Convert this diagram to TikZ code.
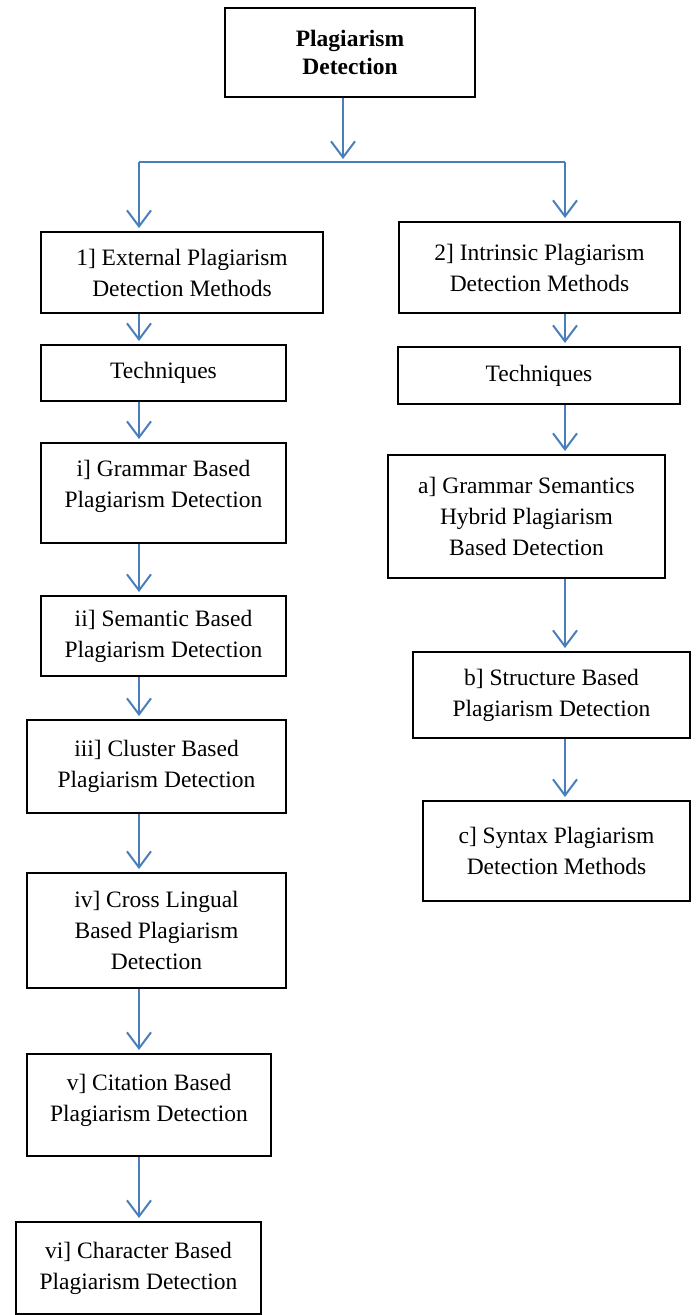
\documentclass[tikz,border=0pt]{standalone}
\usepackage{fontspec}
\setmainfont{Liberation Serif}
\usepackage{tikz}
\usetikzlibrary{shapes,arrows.meta,positioning}
\definecolor{arrowblue}{RGB}{74,126,187}

\begin{document}
\begin{tikzpicture}[x=1pt,y=-1pt]
		\tikzstyle{box} = [rectangle, draw=black, line width=2pt, inner sep=2pt, align=center, font=\fontsize{23.5}{31}\selectfont]
		\tikzstyle{arrow} = [draw=arrowblue, line width=2pt, -{Straight Barb[length=16pt, width=24pt]}, shorten >=3pt]
		\tikzstyle{line} = [draw=arrowblue, line width=2pt]
		\useasboundingbox (0,0) rectangle (696,1315);
		% columns of the arrows
		\coordinate (colL) at (139,0);
		\coordinate (colR) at (565,0);
		\coordinate (split) at (343,162);
		\node (root) [box, minimum width=250pt, minimum height=89pt, font=\fontsize{23.5}{28}\selectfont\bfseries] at (350,52.5) {Plagiarism\\Detection};
		\node (external) [box, minimum width=282pt, minimum height=81pt] at (182,272.5) {1] External Plagiarism\\Detection Methods};
		\node (intrinsic) [box, minimum width=281pt, minimum height=91pt] at (539.5,267.5) {2] Intrinsic Plagiarism\\Detection Methods};
		\node (techL) [box, minimum width=245pt, minimum height=56pt] at (163.5,373) {Techniques};
		\node (techR) [box, minimum width=282pt, minimum height=57pt] at (539,375.5) {Techniques};
		\node (grammar) [box, minimum width=245pt, minimum height=100pt] at (163.5,493) {i] Grammar Based\\Plagiarism Detection\\[-13pt]};
		\node (semantic) [box, minimum width=245pt, minimum height=80pt] at (163.5,636) {ii] Semantic Based\\Plagiarism Detection};
		\node (cluster) [box, minimum width=259pt, minimum height=93pt] at (156.5,766.5) {iii] Cluster Based\\Plagiarism Detection};
		\node (crossling) [box, minimum width=259pt, minimum height=115pt] at (156.5,930.5) {iv] Cross Lingual\\Based Plagiarism\\Detection};
		\node (citation) [box, minimum width=244pt, minimum height=102pt] at (149,1105) {v] Citation Based\\Plagiarism Detection\\[-17pt]};
		\node (character) [box, minimum width=245pt, minimum height=92pt] at (138.5,1268) {vi] Character Based\\Plagiarism Detection};
		\node (hybrid) [box, minimum width=277pt, minimum height=123pt] at (526.5,516.5) {a] Grammar Semantics\\Hybrid Plagiarism\\Based Detection};
		\node (structure) [box, minimum width=277pt, minimum height=86pt] at (551.5,695) {b] Structure Based\\Plagiarism Detection};
		\node (syntax) [box, minimum width=267pt, minimum height=100pt] at (556.5,851) {c] Syntax Plagiarism\\Detection Methods};

		\path [arrow] (root.south -| split) -- (split);
		\path [line] (split -| colL) -- (split -| colR);
		\path [arrow] (split -| colL) -- (external.north -| colL);
		\path [arrow] (split -| colR) -- (intrinsic.north -| colR);

		\path [arrow] (external.south -| colL) -- (techL.north -| colL);
		\path [arrow] (techL.south -| colL) -- (grammar.north -| colL);
		\path [arrow] (grammar.south -| colL) -- (semantic.north -| colL);
		\path [arrow] (semantic.south -| colL) -- (cluster.north -| colL);
		\path [arrow] (cluster.south -| colL) -- (crossling.north -| colL);
		\path [arrow] (crossling.south -| colL) -- (citation.north -| colL);
		\path [arrow] (citation.south -| colL) -- (character.north -| colL);

		\path [arrow] (intrinsic.south -| colR) -- (techR.north -| colR);
		\path [arrow] (techR.south -| colR) -- (hybrid.north -| colR);
		\path [arrow] (hybrid.south -| colR) -- (structure.north -| colR);
		\path [arrow] (structure.south -| colR) -- (syntax.north -| colR);
	\end{tikzpicture}
\end{document}
